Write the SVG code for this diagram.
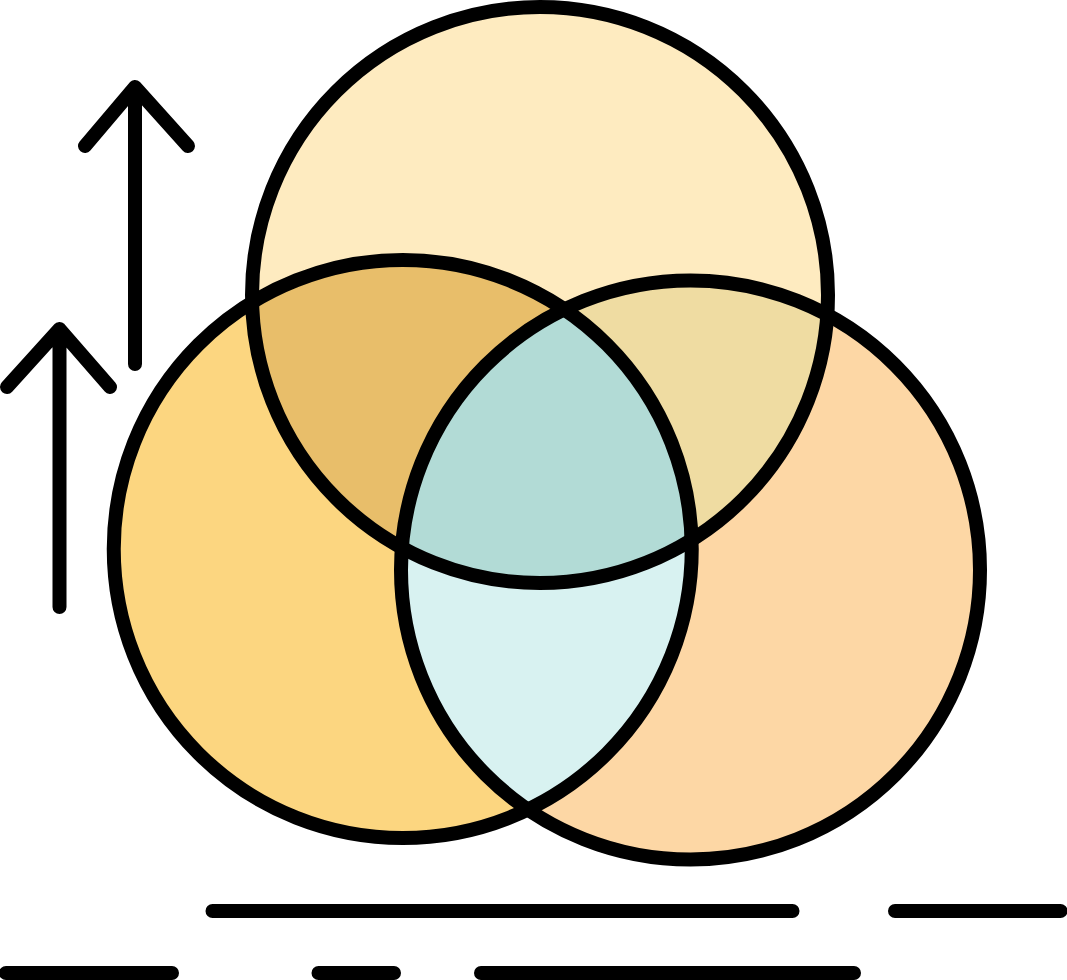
<svg xmlns="http://www.w3.org/2000/svg" width="1067" height="980" viewBox="0 0 1067 980">
<style>.s{fill:none;stroke:#000;stroke-width:14;stroke-linecap:round;stroke-linejoin:round}</style>
<defs>
<clipPath id="cT"><circle cx="540" cy="295" r="288"/></clipPath>
<clipPath id="cL"><circle cx="402.75" cy="549" r="289"/></clipPath>
<clipPath id="cR"><circle cx="690.5" cy="570" r="289.5"/></clipPath>
</defs>
<rect width="1067" height="980" fill="#fff"/>
<g id="fills">
<circle cx="540" cy="295" r="288" fill="#FEEBC0"/>
<circle cx="402.75" cy="549" r="289" fill="#FCD680"/>
<circle cx="690.5" cy="570" r="289.5" fill="#FDD7A5"/>
<g clip-path="url(#cT)"><circle cx="402.75" cy="549" r="289" fill="#E8BE6A"/><circle cx="690.5" cy="570" r="289.5" fill="#EFDCA2"/></g>
<g clip-path="url(#cL)"><circle cx="690.5" cy="570" r="289.5" fill="#D8F2F1"/></g>
<g clip-path="url(#cL)"><g clip-path="url(#cR)"><circle cx="540" cy="295" r="288" fill="#B2DBD6"/></g></g>
</g>
<g id="circles">
<circle class="s" cx="540" cy="295" r="288"/>
<circle class="s" cx="402.75" cy="549" r="289"/>
<circle class="s" cx="690.5" cy="570" r="289.5"/>
</g>
<g id="arrows">
<path class="s" d="M135 364V87M85 146L135 87L188 146"/>
<path class="s" d="M59.5 607V329M7 387L59.5 329L110 387"/>
</g>
<g id="lines">
<path class="s" d="M212.5 911H792.5M895 911H1060.5M6 973H172M318.5 973H394M481 973H854"/>
</g>
</svg>
